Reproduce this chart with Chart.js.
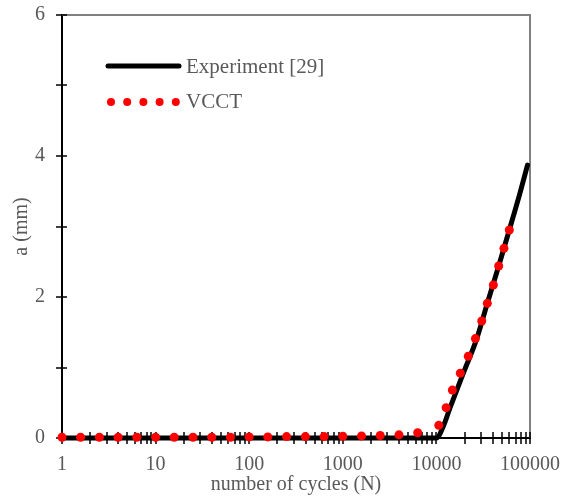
<!DOCTYPE html>
<html>
<head>
<meta charset="utf-8">
<script src="https://cdn.jsdelivr.net/npm/chart.js@4.4.1/dist/chart.umd.min.js"></script>
<style>
  html, body { margin: 0; padding: 0; background: #fff; }
  #wrap { width: 571px; height: 497px; }
</style>
</head>
<body>
<div id="wrap"><canvas id="crackChart"></canvas></div>
<script>
// Experiment [29] - crack length vs number of cycles
const expCycles = [1, 10000, 11800, 14000, 19400, 27000, 35000, 46300, 60100, 78000, 94000];
const expLength = [0, 0, 0.16, 0.43, 0.92, 1.41, 1.91, 2.44, 2.95, 3.47, 3.87];

// VCCT prediction
const vcctCycles = [1, 1.58, 2.51, 3.98, 6.31, 10, 15.8, 25.1, 39.8, 63.1, 100, 158, 251, 398, 631,
  1000, 1585, 2512, 3981, 6310, 10600, 12700, 14800, 18000, 21900, 26100, 30500, 35000, 40600,
  46300, 52700, 60100];
const vcctLength = [0.01, 0.01, 0.01, 0.01, 0.01, 0.01, 0.01, 0.01, 0.01, 0.01, 0.015, 0.015, 0.02,
  0.02, 0.02, 0.025, 0.03, 0.035, 0.045, 0.075, 0.18, 0.43, 0.68, 0.92, 1.16, 1.41, 1.66, 1.91,
  2.17, 2.44, 2.69, 2.95];

// axis ticks
const xTickLabels = [1, 10, 100, 1000, 10000, 100000];
const yTickLabels = [0, 2, 4, 6];

const textColor = '#595959';
const serif = '"Liberation Serif", "Times New Roman", serif';

// minor ticks 1..9 in every decade (axis marks only)
const xTickValues = [];
xTickLabels.forEach((dec, i) => {
  if (i === xTickLabels.length - 1) { xTickValues.push(dec); return; }
  for (let m = 1; m <= 9; m++) xTickValues.push(dec * m);
});

// frame + crossing tick marks, drawn under the data
const frameTicks = {
  id: 'frameTicks',
  beforeDatasetsDraw(chart) {
    const { ctx, chartArea: a, scales: { x, y } } = chart;
    ctx.save();
    ctx.strokeStyle = '#808080';
    ctx.lineWidth = 2;
    ctx.beginPath();
    ctx.moveTo(a.left, a.top);
    ctx.lineTo(a.right, a.top);
    ctx.lineTo(a.right, a.bottom);
    ctx.stroke();

    ctx.strokeStyle = '#000';
    ctx.lineWidth = 1.5;
    ctx.beginPath();
    x.ticks.forEach(t => {
      const px = Math.round(x.getPixelForValue(t.value));
      ctx.moveTo(px, a.bottom - 6);
      ctx.lineTo(px, a.bottom + 6);
    });
    y.ticks.forEach(t => {
      const py = Math.round(y.getPixelForValue(t.value));
      ctx.moveTo(a.left - 6, py);
      ctx.lineTo(a.left + 5, py);
    });
    ctx.stroke();
    ctx.restore();
  }
};

// legend drawn inside the plot, top-left
const insideLegend = {
  id: 'insideLegend',
  afterDraw(chart) {
    const { ctx, chartArea: a } = chart;
    const x0 = a.left + 46, x1 = a.left + 117;
    const y0 = a.top + 51, y1 = a.top + 87;
    ctx.save();
    ctx.strokeStyle = '#000';
    ctx.lineWidth = 5;
    ctx.lineCap = 'round';
    ctx.beginPath();
    ctx.moveTo(x0, y0);
    ctx.lineTo(x1, y0);
    ctx.stroke();

    ctx.fillStyle = 'red';
    for (let i = 0; i < 5; i++) {
      ctx.beginPath();
      ctx.arc(x0 + 3 + i * 16.2, y1, 4, 0, Math.PI * 2);
      ctx.fill();
    }

    ctx.fillStyle = textColor;
    ctx.font = '21px ' + serif;
    ctx.textBaseline = 'middle';
    ctx.fillText('Experiment [29]', x1 + 7, y0 + 1);
    ctx.fillText('VCCT', x1 + 7, y1);
    ctx.restore();
  }
};

const ctx = document.getElementById('crackChart').getContext('2d');
new Chart(ctx, {
  type: 'scatter',
  data: {
    datasets: [
      {
        label: 'VCCT',
        data: vcctCycles.map((n, i) => ({ x: n, y: vcctLength[i] })),
        showLine: false,
        pointRadius: 4.5,
        pointHoverRadius: 4.5,
        pointBackgroundColor: 'red',
        pointBorderWidth: 0,
        clip: false
      },
      {
        label: 'Experiment [29]',
        data: expCycles.map((n, i) => ({ x: n, y: expLength[i] })),
        showLine: true,
        borderColor: '#000',
        borderWidth: 5,
        borderCapStyle: 'round',
        borderJoinStyle: 'round',
        cubicInterpolationMode: 'monotone',
        pointRadius: 0,
        clip: false
      }
    ]
  },
  options: {
    responsive: true,
    maintainAspectRatio: false,
    animation: false,
    layout: { padding: { left: 0, top: 15, right: 41, bottom: 0 } },
    plugins: {
      legend: { display: false },
      tooltip: { enabled: false }
    },
    scales: {
      x: {
        type: 'logarithmic',
        min: 1,
        max: 100000,
        afterBuildTicks: (scale) => { scale.ticks = xTickValues.map(v => ({ value: v })); },
        afterFit: (scale) => {
          scale.height = 59;
          scale.paddingLeft = 0;
          scale.paddingRight = 0;
        },
        grid: { display: false },
        border: { color: '#000', width: 2 },
        ticks: {
          autoSkip: false,
          maxRotation: 0,
          padding: 7,
          color: textColor,
          font: { family: serif, size: 20 },
          callback: (v) => xTickLabels.includes(v) ? String(v) : ''
        },
        title: {
          display: true,
          text: 'number of cycles (N)',
          color: textColor,
          font: { family: serif, size: 20 },
          padding: { top: 0, bottom: 0 }
        }
      },
      y: {
        min: 0,
        max: 6,
        afterFit: (scale) => {
          scale.width = 62;
          scale.paddingTop = 0;
          scale.paddingBottom = 0;
        },
        grid: { display: false },
        border: { color: '#000', width: 2 },
        ticks: {
          stepSize: 1,
          padding: 9,
          color: textColor,
          font: { family: serif, size: 20 },
          callback: (v) => yTickLabels.includes(v) ? String(v) : ''
        },
        title: {
          display: true,
          text: 'a (mm)',
          color: textColor,
          font: { family: serif, size: 20 },
          padding: { top: 10, bottom: 0 }
        }
      }
    }
  },
  plugins: [frameTicks, insideLegend]
});
</script>
</body>
</html>
